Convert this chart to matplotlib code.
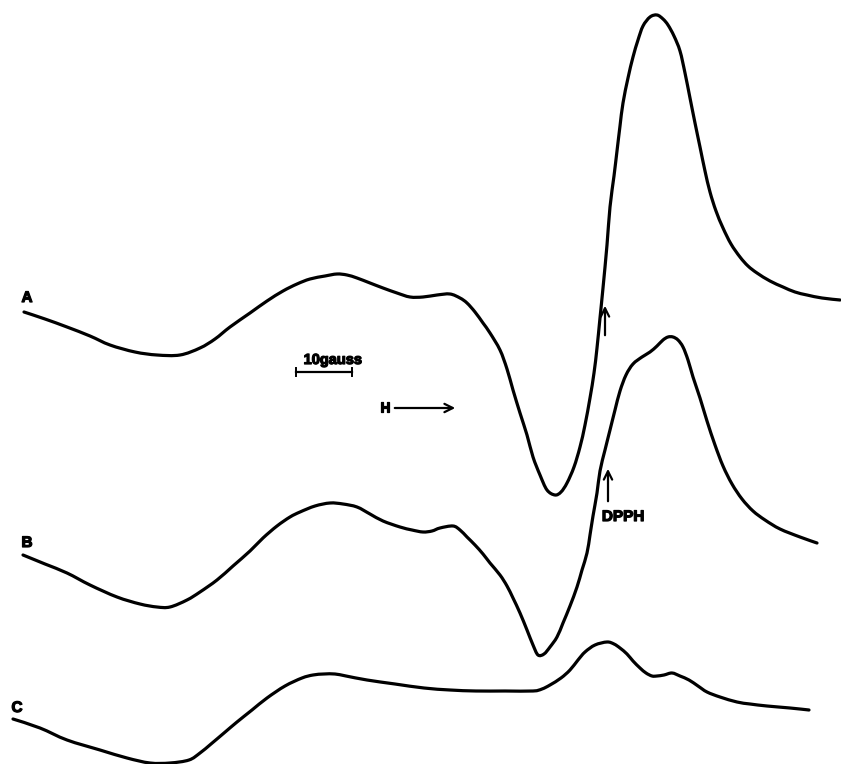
import matplotlib
matplotlib.use("Agg")
import matplotlib.pyplot as plt
import matplotlib.patheffects as pe
from matplotlib.path import Path
from matplotlib.patches import PathPatch

# ESR derivative traces: field position (chart units) and signal level (chart units, downward positive)
field_a = [24, 45, 67, 90, 110, 135, 157, 180, 200, 215, 230, 250, 267, 283, 297, 310, 325, 337,
           347, 357, 370, 383, 397, 410, 423, 437, 450, 460, 467, 475, 483, 490, 500, 507, 513,
           520, 527, 533, 540, 547, 555, 561, 567, 574, 580, 585, 590, 594, 597, 600, 603, 607,
           610, 614, 617, 620, 623, 628, 633, 638, 643, 650, 657, 663, 668, 674, 680, 685, 690,
           695, 700, 705, 710, 716, 723, 731, 740, 748, 757, 770, 783, 795, 807, 822, 840]
signal_a = [312, 319, 327, 336, 345, 352, 355, 355, 348, 339, 327, 313, 301, 291, 284, 279, 276,
            274, 275, 278, 283, 288, 293, 297, 297, 295, 294, 298, 303, 312, 323, 333, 350, 369,
            390, 413, 435, 457, 475, 490, 495, 492, 483, 467, 447, 425, 398, 373, 348, 318, 288,
            245, 207, 176, 151, 126, 103, 78, 57, 40, 26, 17, 15, 19, 25, 36, 51, 73, 98, 123,
            147, 171, 192, 211, 228, 244, 257, 266, 273, 281, 287, 292, 295, 298, 300]

field_b = [23, 45, 67, 90, 117, 140, 157, 170, 187, 200, 217, 233, 250, 263, 277, 290, 300, 315,
           330, 343, 357, 370, 383, 400, 412, 423, 432, 440, 453, 460, 467, 475, 483, 490, 500,
           507, 513, 520, 527, 533, 538, 544, 550, 557, 563, 570, 577, 582, 587, 590, 593, 597,
           600, 605, 610, 615, 620, 626, 633, 642, 650, 657, 663, 668, 673, 678, 683, 688, 693,
           700, 707, 715, 723, 732, 742, 753, 765, 780, 800, 817]
signal_b = [555, 564, 573, 585, 597, 604, 607, 607, 600, 592, 580, 566, 551, 538, 526, 517, 512,
            506, 503, 504, 507, 514, 521, 527, 530, 532, 531, 528, 526, 530, 537, 545, 554, 563,
            575, 586, 598, 613, 630, 645, 655, 654, 647, 637, 623, 606, 587, 570, 553, 535, 516,
            493, 471, 450, 430, 410, 391, 375, 364, 357, 352, 346, 340, 337, 337, 340, 347, 360,
            377, 398, 421, 445, 466, 484, 499, 511, 520, 529, 537, 543]

field_c = [13, 40, 67, 100, 127, 150, 170, 189, 200, 211, 224, 237, 252, 267, 285, 302, 313, 324,
           335, 346, 367, 395, 424, 450, 476, 505, 533, 542, 550, 561, 570, 578, 585, 595, 607,
           614, 620, 627, 633, 640, 646, 652, 657, 664, 672, 680, 689, 698, 707, 720, 737, 750,
           767, 790, 809]
signal_c = [719, 728, 740, 750, 758, 763, 763, 760, 753, 744, 733, 722, 710, 698, 686, 678, 675,
            674, 674, 676, 680, 684, 688, 690, 691, 691, 691, 689, 685, 678, 670, 660, 652, 645,
            642, 644, 648, 654, 661, 668, 673, 676, 676, 675, 673, 676, 680, 686, 692, 697, 702,
            704, 706, 708, 710]

trace_labels = ["A", "B", "C"]
scale_text = "10gauss"
field_text = "H"
marker_text = "DPPH"


def smooth_trace(ax, xs, ys, **kw):
    """Draw a pen-like trace through the points as a chain of cubic Bezier segments."""
    pts = list(zip(xs, ys))
    verts = [pts[0]]
    codes = [Path.MOVETO]
    n = len(pts)
    for i in range(n - 1):
        p0 = pts[i - 1] if i > 0 else pts[i]
        p1 = pts[i]
        p2 = pts[i + 1]
        p3 = pts[i + 2] if i + 2 < n else pts[i + 1]
        c1 = (p1[0] + (p2[0] - p0[0]) / 6.0, p1[1] + (p2[1] - p0[1]) / 6.0)
        c2 = (p2[0] - (p3[0] - p1[0]) / 6.0, p2[1] - (p3[1] - p1[1]) / 6.0)
        verts += [c1, c2, p2]
        codes += [Path.CURVE4] * 3
    patch = PathPatch(Path(verts, codes), fill=False, transform=ax.transData,
                      capstyle="round", joinstyle="round", **kw)
    ax.add_patch(patch)


fig = plt.figure(figsize=(8.41, 7.64), dpi=100)
ax = fig.add_axes([0, 0, 1, 1])
ax.set_xlim(0, 841)
ax.set_ylim(764, 0)
ax.axis("off")

for xs, ys in [(field_a, signal_a), (field_b, signal_b), (field_c, signal_c)]:
    smooth_trace(ax, xs, ys, edgecolor="black", lw=2.3)

heavy = [pe.withStroke(linewidth=0.9, foreground="black")]
font = dict(family=["Liberation Sans", "DejaVu Sans"], fontweight="bold", color="black",
            path_effects=heavy)
for (x, y), lab in zip([(27, 298), (27, 543), (17, 708)], trace_labels):
    ax.text(x, y, lab, ha="center", va="center", fontsize=11, **font)

# 10 gauss scale bar
ax.text(333, 360, scale_text, ha="center", va="center", fontsize=10.5, **font)
ax.plot([296, 352], [372, 372], color="black", lw=1.6)
ax.plot([296, 296], [368, 376], color="black", lw=1.4)
ax.plot([352, 352], [368, 376], color="black", lw=1.4)

# field direction
ax.text(385, 408, field_text, ha="center", va="center", fontsize=10, **font)
arrow_kw = dict(arrowstyle="->,head_length=0.6,head_width=0.3", color="black", lw=1.6)
ax.annotate("", xy=(458, 408), xytext=(392, 408), arrowprops=arrow_kw)

# DPPH markers
ax.annotate("", xy=(605, 303), xytext=(605, 338), arrowprops=arrow_kw)
ax.annotate("", xy=(608, 466), xytext=(608, 504), arrowprops=arrow_kw)
ax.text(623, 517, marker_text, ha="center", va="center", fontsize=11, **font)

fig.savefig("out.png", dpi=100, facecolor="white")
